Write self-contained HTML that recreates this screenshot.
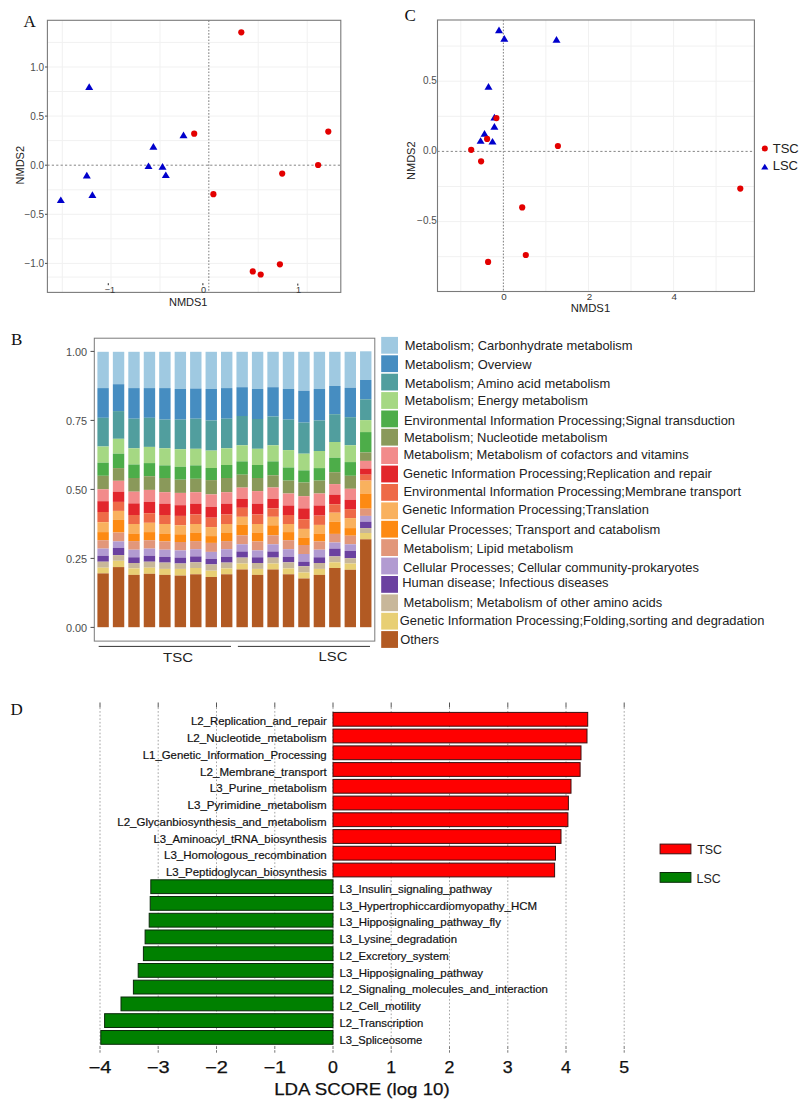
<!DOCTYPE html>
<html><head><meta charset="utf-8"><title>Figure</title>
<style>html,body{margin:0;padding:0;background:#fff;}body{width:807px;height:1103px;position:relative;overflow:hidden;font-family:"Liberation Sans",sans-serif;}</style>
</head><body>
<svg width="807" height="1103" viewBox="0 0 807 1103" style="position:absolute;left:0;top:0">
<text x="23.5" y="26.8" font-size="17" text-anchor="start" fill="#111" font-family='"Liberation Serif", serif' >A</text>
<line x1="62.3" y1="20.3" x2="62.3" y2="292.4" stroke="#f1f1f1" stroke-width="1"/>
<line x1="111.0" y1="20.3" x2="111.0" y2="292.4" stroke="#f1f1f1" stroke-width="1"/>
<line x1="160.0" y1="20.3" x2="160.0" y2="292.4" stroke="#f1f1f1" stroke-width="1"/>
<line x1="258.2" y1="20.3" x2="258.2" y2="292.4" stroke="#f1f1f1" stroke-width="1"/>
<line x1="307.2" y1="20.3" x2="307.2" y2="292.4" stroke="#f1f1f1" stroke-width="1"/>
<line x1="47.4" y1="42.4" x2="340.8" y2="42.4" stroke="#f1f1f1" stroke-width="1"/>
<line x1="47.4" y1="67.0" x2="340.8" y2="67.0" stroke="#f1f1f1" stroke-width="1"/>
<line x1="47.4" y1="91.5" x2="340.8" y2="91.5" stroke="#f1f1f1" stroke-width="1"/>
<line x1="47.4" y1="116.1" x2="340.8" y2="116.1" stroke="#f1f1f1" stroke-width="1"/>
<line x1="47.4" y1="140.6" x2="340.8" y2="140.6" stroke="#f1f1f1" stroke-width="1"/>
<line x1="47.4" y1="189.8" x2="340.8" y2="189.8" stroke="#f1f1f1" stroke-width="1"/>
<line x1="47.4" y1="214.3" x2="340.8" y2="214.3" stroke="#f1f1f1" stroke-width="1"/>
<line x1="47.4" y1="238.8" x2="340.8" y2="238.8" stroke="#f1f1f1" stroke-width="1"/>
<line x1="47.4" y1="263.4" x2="340.8" y2="263.4" stroke="#f1f1f1" stroke-width="1"/>
<line x1="47.4" y1="277.1" x2="340.8" y2="277.1" stroke="#f1f1f1" stroke-width="1"/>
<line x1="47.4" y1="165.2" x2="340.8" y2="165.2" stroke="#666" stroke-width="0.8" stroke-dasharray="2.2,2.2"/>
<line x1="208.8" y1="20.3" x2="208.8" y2="292.4" stroke="#8a8a8a" stroke-width="1.1" stroke-dasharray="1.6,1.6"/>
<rect x="47.4" y="20.3" width="293.40000000000003" height="272.09999999999997" fill="none" stroke="#7a7a7a" stroke-width="1.1"/>
<line x1="45" y1="67.0" x2="47.4" y2="67.0" stroke="#4d4d4d" stroke-width="1"/>
<text x="44.2" y="70.6" font-size="10" text-anchor="end" fill="#4d4d4d" font-family='"Liberation Sans", sans-serif' >1.0</text>
<line x1="45" y1="116.1" x2="47.4" y2="116.1" stroke="#4d4d4d" stroke-width="1"/>
<text x="44.2" y="119.7" font-size="10" text-anchor="end" fill="#4d4d4d" font-family='"Liberation Sans", sans-serif' >0.5</text>
<line x1="45" y1="165.2" x2="47.4" y2="165.2" stroke="#4d4d4d" stroke-width="1"/>
<text x="44.2" y="168.8" font-size="10" text-anchor="end" fill="#4d4d4d" font-family='"Liberation Sans", sans-serif' >0.0</text>
<line x1="45" y1="214.3" x2="47.4" y2="214.3" stroke="#4d4d4d" stroke-width="1"/>
<text x="44.2" y="217.9" font-size="10" text-anchor="end" fill="#4d4d4d" font-family='"Liberation Sans", sans-serif' >−0.5</text>
<line x1="45" y1="263.4" x2="47.4" y2="263.4" stroke="#4d4d4d" stroke-width="1"/>
<text x="44.2" y="267.0" font-size="10" text-anchor="end" fill="#4d4d4d" font-family='"Liberation Sans", sans-serif' >−1.0</text>
<text x="110" y="293" font-size="9.2" text-anchor="middle" fill="#3a3a3a" font-family='"Liberation Sans", sans-serif' >−1</text>
<text x="203.6" y="293" font-size="9.2" text-anchor="middle" fill="#3a3a3a" font-family='"Liberation Sans", sans-serif' >0</text>
<text x="298.5" y="293" font-size="9.2" text-anchor="middle" fill="#3a3a3a" font-family='"Liberation Sans", sans-serif' >1</text>
<rect x="107.7" y="283.2" width="1.3" height="2" fill="#555"/>
<rect x="202.20000000000002" y="283.2" width="1.3" height="2" fill="#555"/>
<rect x="297.09999999999997" y="283.6" width="1.3" height="2" fill="#555"/>
<text x="188.2" y="306.2" font-size="11" text-anchor="middle" fill="#222" font-family='"Liberation Sans", sans-serif' >NMDS1</text>
<text x="0" y="0" font-size="11" text-anchor="middle" fill="#222" font-family='"Liberation Sans", sans-serif' transform="translate(24.3,165.2) rotate(-90)">NMDS2</text>
<polygon points="85.20,89.88 93.20,89.88 89.20,83.32" fill="#0000cc"/>
<polygon points="179.50,138.18 187.50,138.18 183.50,131.62" fill="#0000cc"/>
<polygon points="149.40,149.68 157.40,149.68 153.40,143.12" fill="#0000cc"/>
<polygon points="56.80,203.08 64.80,203.08 60.80,196.52" fill="#0000cc"/>
<polygon points="82.80,178.38 90.80,178.38 86.80,171.82" fill="#0000cc"/>
<polygon points="88.40,197.88 96.40,197.88 92.40,191.32" fill="#0000cc"/>
<polygon points="144.50,169.08 152.50,169.08 148.50,162.52" fill="#0000cc"/>
<polygon points="158.50,169.68 166.50,169.68 162.50,163.12" fill="#0000cc"/>
<polygon points="161.80,177.98 169.80,177.98 165.80,171.42" fill="#0000cc"/>
<circle cx="241.3" cy="32.3" r="3.1" fill="#e30000"/>
<circle cx="194.2" cy="133.7" r="3.1" fill="#e30000"/>
<circle cx="328.3" cy="131.6" r="3.1" fill="#e30000"/>
<circle cx="318.1" cy="165.0" r="3.1" fill="#e30000"/>
<circle cx="282.2" cy="173.6" r="3.1" fill="#e30000"/>
<circle cx="213.4" cy="194.2" r="3.1" fill="#e30000"/>
<circle cx="279.9" cy="264.3" r="3.1" fill="#e30000"/>
<circle cx="252.8" cy="271.4" r="3.1" fill="#e30000"/>
<circle cx="260.7" cy="274.5" r="3.1" fill="#e30000"/>
<text x="404.5" y="20.8" font-size="17" text-anchor="start" fill="#111" font-family='"Liberation Serif", serif' >C</text>
<line x1="460.8" y1="20.0" x2="460.8" y2="291.5" stroke="#f1f1f1" stroke-width="1"/>
<line x1="545.9" y1="20.0" x2="545.9" y2="291.5" stroke="#f1f1f1" stroke-width="1"/>
<line x1="588.5" y1="20.0" x2="588.5" y2="291.5" stroke="#f1f1f1" stroke-width="1"/>
<line x1="631.0" y1="20.0" x2="631.0" y2="291.5" stroke="#f1f1f1" stroke-width="1"/>
<line x1="673.6" y1="20.0" x2="673.6" y2="291.5" stroke="#f1f1f1" stroke-width="1"/>
<line x1="716.1" y1="20.0" x2="716.1" y2="291.5" stroke="#f1f1f1" stroke-width="1"/>
<line x1="437.5" y1="46.1" x2="754.4" y2="46.1" stroke="#f1f1f1" stroke-width="1"/>
<line x1="437.5" y1="81.2" x2="754.4" y2="81.2" stroke="#f1f1f1" stroke-width="1"/>
<line x1="437.5" y1="116.3" x2="754.4" y2="116.3" stroke="#f1f1f1" stroke-width="1"/>
<line x1="437.5" y1="186.5" x2="754.4" y2="186.5" stroke="#f1f1f1" stroke-width="1"/>
<line x1="437.5" y1="221.6" x2="754.4" y2="221.6" stroke="#f1f1f1" stroke-width="1"/>
<line x1="437.5" y1="256.7" x2="754.4" y2="256.7" stroke="#f1f1f1" stroke-width="1"/>
<line x1="437.5" y1="151.4" x2="754.4" y2="151.4" stroke="#666" stroke-width="0.8" stroke-dasharray="2.2,2.2"/>
<line x1="503.4" y1="20.0" x2="503.4" y2="291.5" stroke="#8a8a8a" stroke-width="1.1" stroke-dasharray="1.6,1.6"/>
<rect x="437.5" y="20.0" width="316.9" height="271.5" fill="none" stroke="#7a7a7a" stroke-width="1.1"/>
<text x="436.8" y="83.6" font-size="10" text-anchor="end" fill="#4d4d4d" font-family='"Liberation Sans", sans-serif' >0.5</text>
<text x="436.8" y="153.8" font-size="10" text-anchor="end" fill="#4d4d4d" font-family='"Liberation Sans", sans-serif' >0.0</text>
<text x="436.8" y="224.0" font-size="10" text-anchor="end" fill="#4d4d4d" font-family='"Liberation Sans", sans-serif' >−0.5</text>
<text x="503.9" y="299.7" font-size="9.8" text-anchor="middle" fill="#3a3a3a" font-family='"Liberation Sans", sans-serif' >0</text>
<text x="589.4" y="299.7" font-size="9.8" text-anchor="middle" fill="#3a3a3a" font-family='"Liberation Sans", sans-serif' >2</text>
<text x="674.2" y="299.7" font-size="9.8" text-anchor="middle" fill="#3a3a3a" font-family='"Liberation Sans", sans-serif' >4</text>
<text x="590.4" y="312.1" font-size="11.3" text-anchor="middle" fill="#222" font-family='"Liberation Sans", sans-serif' >NMDS1</text>
<text x="0" y="0" font-size="11" text-anchor="middle" fill="#222" font-family='"Liberation Sans", sans-serif' transform="translate(415.3,160.7) rotate(-90)">NMDS2</text>
<polygon points="495.00,33.18 503.00,33.18 499.00,26.62" fill="#0000cc"/>
<polygon points="500.30,41.68 508.30,41.68 504.30,35.12" fill="#0000cc"/>
<polygon points="552.50,42.68 560.50,42.68 556.50,36.12" fill="#0000cc"/>
<polygon points="484.50,89.68 492.50,89.68 488.50,83.12" fill="#0000cc"/>
<polygon points="490.40,120.38 498.40,120.38 494.40,113.82" fill="#0000cc"/>
<polygon points="490.40,129.68 498.40,129.68 494.40,123.12" fill="#0000cc"/>
<polygon points="480.50,136.68 488.50,136.68 484.50,130.12" fill="#0000cc"/>
<polygon points="476.60,143.78 484.60,143.78 480.60,137.22" fill="#0000cc"/>
<polygon points="488.50,144.58 496.50,144.58 492.50,138.02" fill="#0000cc"/>
<circle cx="496.4" cy="118.1" r="3.1" fill="#e30000"/>
<circle cx="487.1" cy="138.9" r="3.1" fill="#e30000"/>
<circle cx="471.2" cy="149.8" r="3.1" fill="#e30000"/>
<circle cx="481.1" cy="161.3" r="3.1" fill="#e30000"/>
<circle cx="557.9" cy="146.0" r="3.1" fill="#e30000"/>
<circle cx="522.2" cy="207.4" r="3.1" fill="#e30000"/>
<circle cx="525.8" cy="255.0" r="3.1" fill="#e30000"/>
<circle cx="488.1" cy="261.9" r="3.1" fill="#e30000"/>
<circle cx="740.3" cy="188.6" r="3.1" fill="#e30000"/>
<circle cx="764.8" cy="148.4" r="3.0" fill="#e30000"/>
<polygon points="761.20,169.55 768.40,169.55 764.80,163.65" fill="#0000cc"/>
<text x="772.7" y="152.6" font-size="13" text-anchor="start" fill="#222" font-family='"Liberation Sans", sans-serif' >TSC</text>
<text x="772.7" y="169.8" font-size="13" text-anchor="start" fill="#222" font-family='"Liberation Sans", sans-serif' >LSC</text>
<text x="10.9" y="345" font-size="17" text-anchor="start" fill="#111" font-family='"Liberation Serif", serif' >B</text>
<rect x="94.3" y="338.2" width="280.5" height="302.90000000000003" fill="none" stroke="#7a7a7a" stroke-width="1"/>
<rect x="97.40" y="351.8" width="11.4" height="36.3" fill="#9fc9e1"/>
<rect x="97.40" y="388.1" width="11.4" height="29.7" fill="#468dc1"/>
<rect x="97.40" y="417.8" width="11.4" height="28.7" fill="#519e9e"/>
<rect x="97.40" y="446.5" width="11.4" height="16.2" fill="#a5d883"/>
<rect x="97.40" y="462.7" width="11.4" height="13.1" fill="#4dad49"/>
<rect x="97.40" y="475.8" width="11.4" height="13.5" fill="#8a995a"/>
<rect x="97.40" y="489.3" width="11.4" height="11.9" fill="#f28b8b"/>
<rect x="97.40" y="501.2" width="11.4" height="10.8" fill="#e2262c"/>
<rect x="97.40" y="512.0" width="11.4" height="10.2" fill="#ee6a47"/>
<rect x="97.40" y="522.2" width="11.4" height="9.9" fill="#f9b15e"/>
<rect x="97.40" y="532.1" width="11.4" height="8.1" fill="#fd8a13"/>
<rect x="97.40" y="540.2" width="11.4" height="8.4" fill="#e2977a"/>
<rect x="97.40" y="548.6" width="11.4" height="7.2" fill="#b29bd1"/>
<rect x="97.40" y="555.8" width="11.4" height="5.9" fill="#6b41a0"/>
<rect x="97.40" y="561.7" width="11.4" height="6.0" fill="#c8b79a"/>
<rect x="97.40" y="567.7" width="11.4" height="5.7" fill="#e8cf74"/>
<rect x="97.40" y="573.4" width="11.4" height="53.8" fill="#b25a23"/>
<rect x="112.85" y="351.8" width="11.4" height="32.4" fill="#9fc9e1"/>
<rect x="112.85" y="384.2" width="11.4" height="26.9" fill="#468dc1"/>
<rect x="112.85" y="411.1" width="11.4" height="27.7" fill="#519e9e"/>
<rect x="112.85" y="438.8" width="11.4" height="14.9" fill="#a5d883"/>
<rect x="112.85" y="453.7" width="11.4" height="14.4" fill="#4dad49"/>
<rect x="112.85" y="468.1" width="11.4" height="12.7" fill="#8a995a"/>
<rect x="112.85" y="480.8" width="11.4" height="10.9" fill="#f28b8b"/>
<rect x="112.85" y="491.7" width="11.4" height="10.2" fill="#e2262c"/>
<rect x="112.85" y="501.9" width="11.4" height="9.0" fill="#ee6a47"/>
<rect x="112.85" y="510.9" width="11.4" height="9.0" fill="#f9b15e"/>
<rect x="112.85" y="519.9" width="11.4" height="12.6" fill="#fd8a13"/>
<rect x="112.85" y="532.5" width="11.4" height="8.9" fill="#e2977a"/>
<rect x="112.85" y="541.4" width="11.4" height="6.5" fill="#b29bd1"/>
<rect x="112.85" y="547.9" width="11.4" height="7.2" fill="#6b41a0"/>
<rect x="112.85" y="555.1" width="11.4" height="5.7" fill="#c8b79a"/>
<rect x="112.85" y="560.8" width="11.4" height="6.3" fill="#e8cf74"/>
<rect x="112.85" y="567.1" width="11.4" height="60.1" fill="#b25a23"/>
<rect x="128.30" y="351.8" width="11.4" height="36.3" fill="#9fc9e1"/>
<rect x="128.30" y="388.1" width="11.4" height="30.6" fill="#468dc1"/>
<rect x="128.30" y="418.7" width="11.4" height="29.6" fill="#519e9e"/>
<rect x="128.30" y="448.3" width="11.4" height="16.2" fill="#a5d883"/>
<rect x="128.30" y="464.5" width="11.4" height="13.5" fill="#4dad49"/>
<rect x="128.30" y="478.0" width="11.4" height="13.7" fill="#8a995a"/>
<rect x="128.30" y="491.7" width="11.4" height="11.7" fill="#f28b8b"/>
<rect x="128.30" y="503.4" width="11.4" height="11.6" fill="#e2262c"/>
<rect x="128.30" y="515.0" width="11.4" height="9.0" fill="#ee6a47"/>
<rect x="128.30" y="524.0" width="11.4" height="9.5" fill="#f9b15e"/>
<rect x="128.30" y="533.5" width="11.4" height="7.6" fill="#fd8a13"/>
<rect x="128.30" y="541.1" width="11.4" height="8.6" fill="#e2977a"/>
<rect x="128.30" y="549.7" width="11.4" height="7.6" fill="#b29bd1"/>
<rect x="128.30" y="557.3" width="11.4" height="5.7" fill="#6b41a0"/>
<rect x="128.30" y="563.0" width="11.4" height="5.4" fill="#c8b79a"/>
<rect x="128.30" y="568.4" width="11.4" height="6.5" fill="#e8cf74"/>
<rect x="128.30" y="574.9" width="11.4" height="52.3" fill="#b25a23"/>
<rect x="143.75" y="351.8" width="11.4" height="36.3" fill="#9fc9e1"/>
<rect x="143.75" y="388.1" width="11.4" height="29.7" fill="#468dc1"/>
<rect x="143.75" y="417.8" width="11.4" height="29.1" fill="#519e9e"/>
<rect x="143.75" y="446.9" width="11.4" height="16.2" fill="#a5d883"/>
<rect x="143.75" y="463.1" width="11.4" height="13.1" fill="#4dad49"/>
<rect x="143.75" y="476.2" width="11.4" height="13.7" fill="#8a995a"/>
<rect x="143.75" y="489.9" width="11.4" height="12.0" fill="#f28b8b"/>
<rect x="143.75" y="501.9" width="11.4" height="11.3" fill="#e2262c"/>
<rect x="143.75" y="513.2" width="11.4" height="9.6" fill="#ee6a47"/>
<rect x="143.75" y="522.8" width="11.4" height="9.3" fill="#f9b15e"/>
<rect x="143.75" y="532.1" width="11.4" height="8.1" fill="#fd8a13"/>
<rect x="143.75" y="540.2" width="11.4" height="8.4" fill="#e2977a"/>
<rect x="143.75" y="548.6" width="11.4" height="7.2" fill="#b29bd1"/>
<rect x="143.75" y="555.8" width="11.4" height="5.9" fill="#6b41a0"/>
<rect x="143.75" y="561.7" width="11.4" height="6.0" fill="#c8b79a"/>
<rect x="143.75" y="567.7" width="11.4" height="6.1" fill="#e8cf74"/>
<rect x="143.75" y="573.8" width="11.4" height="53.4" fill="#b25a23"/>
<rect x="159.20" y="351.8" width="11.4" height="36.3" fill="#9fc9e1"/>
<rect x="159.20" y="388.1" width="11.4" height="31.5" fill="#468dc1"/>
<rect x="159.20" y="419.6" width="11.4" height="28.7" fill="#519e9e"/>
<rect x="159.20" y="448.3" width="11.4" height="17.1" fill="#a5d883"/>
<rect x="159.20" y="465.4" width="11.4" height="12.6" fill="#4dad49"/>
<rect x="159.20" y="478.0" width="11.4" height="14.2" fill="#8a995a"/>
<rect x="159.20" y="492.2" width="11.4" height="11.5" fill="#f28b8b"/>
<rect x="159.20" y="503.7" width="11.4" height="11.3" fill="#e2262c"/>
<rect x="159.20" y="515.0" width="11.4" height="9.0" fill="#ee6a47"/>
<rect x="159.20" y="524.0" width="11.4" height="9.5" fill="#f9b15e"/>
<rect x="159.20" y="533.5" width="11.4" height="7.9" fill="#fd8a13"/>
<rect x="159.20" y="541.4" width="11.4" height="8.3" fill="#e2977a"/>
<rect x="159.20" y="549.7" width="11.4" height="7.2" fill="#b29bd1"/>
<rect x="159.20" y="556.9" width="11.4" height="5.7" fill="#6b41a0"/>
<rect x="159.20" y="562.6" width="11.4" height="6.3" fill="#c8b79a"/>
<rect x="159.20" y="568.9" width="11.4" height="6.0" fill="#e8cf74"/>
<rect x="159.20" y="574.9" width="11.4" height="52.3" fill="#b25a23"/>
<rect x="174.65" y="351.8" width="11.4" height="37.2" fill="#9fc9e1"/>
<rect x="174.65" y="389.0" width="11.4" height="30.6" fill="#468dc1"/>
<rect x="174.65" y="419.6" width="11.4" height="29.6" fill="#519e9e"/>
<rect x="174.65" y="449.2" width="11.4" height="17.6" fill="#a5d883"/>
<rect x="174.65" y="466.8" width="11.4" height="12.9" fill="#4dad49"/>
<rect x="174.65" y="479.7" width="11.4" height="13.2" fill="#8a995a"/>
<rect x="174.65" y="492.9" width="11.4" height="12.3" fill="#f28b8b"/>
<rect x="174.65" y="505.2" width="11.4" height="10.7" fill="#e2262c"/>
<rect x="174.65" y="515.9" width="11.4" height="9.4" fill="#ee6a47"/>
<rect x="174.65" y="525.3" width="11.4" height="9.0" fill="#f9b15e"/>
<rect x="174.65" y="534.3" width="11.4" height="7.7" fill="#fd8a13"/>
<rect x="174.65" y="542.0" width="11.4" height="8.4" fill="#e2977a"/>
<rect x="174.65" y="550.4" width="11.4" height="7.2" fill="#b29bd1"/>
<rect x="174.65" y="557.6" width="11.4" height="5.9" fill="#6b41a0"/>
<rect x="174.65" y="563.5" width="11.4" height="5.4" fill="#c8b79a"/>
<rect x="174.65" y="568.9" width="11.4" height="6.7" fill="#e8cf74"/>
<rect x="174.65" y="575.6" width="11.4" height="51.6" fill="#b25a23"/>
<rect x="190.10" y="351.8" width="11.4" height="36.7" fill="#9fc9e1"/>
<rect x="190.10" y="388.5" width="11.4" height="30.2" fill="#468dc1"/>
<rect x="190.10" y="418.7" width="11.4" height="30.1" fill="#519e9e"/>
<rect x="190.10" y="448.8" width="11.4" height="16.6" fill="#a5d883"/>
<rect x="190.10" y="465.4" width="11.4" height="13.4" fill="#4dad49"/>
<rect x="190.10" y="478.8" width="11.4" height="13.4" fill="#8a995a"/>
<rect x="190.10" y="492.2" width="11.4" height="11.5" fill="#f28b8b"/>
<rect x="190.10" y="503.7" width="11.4" height="10.8" fill="#e2262c"/>
<rect x="190.10" y="514.5" width="11.4" height="9.5" fill="#ee6a47"/>
<rect x="190.10" y="524.0" width="11.4" height="8.5" fill="#f9b15e"/>
<rect x="190.10" y="532.5" width="11.4" height="8.6" fill="#fd8a13"/>
<rect x="190.10" y="541.1" width="11.4" height="8.1" fill="#e2977a"/>
<rect x="190.10" y="549.2" width="11.4" height="7.2" fill="#b29bd1"/>
<rect x="190.10" y="556.4" width="11.4" height="5.9" fill="#6b41a0"/>
<rect x="190.10" y="562.3" width="11.4" height="5.7" fill="#c8b79a"/>
<rect x="190.10" y="568.0" width="11.4" height="6.3" fill="#e8cf74"/>
<rect x="190.10" y="574.3" width="11.4" height="52.9" fill="#b25a23"/>
<rect x="205.55" y="351.8" width="11.4" height="37.2" fill="#9fc9e1"/>
<rect x="205.55" y="389.0" width="11.4" height="31.5" fill="#468dc1"/>
<rect x="205.55" y="420.5" width="11.4" height="30.1" fill="#519e9e"/>
<rect x="205.55" y="450.6" width="11.4" height="17.4" fill="#a5d883"/>
<rect x="205.55" y="468.0" width="11.4" height="12.1" fill="#4dad49"/>
<rect x="205.55" y="480.1" width="11.4" height="14.3" fill="#8a995a"/>
<rect x="205.55" y="494.4" width="11.4" height="12.5" fill="#f28b8b"/>
<rect x="205.55" y="506.9" width="11.4" height="10.8" fill="#e2262c"/>
<rect x="205.55" y="517.7" width="11.4" height="9.4" fill="#ee6a47"/>
<rect x="205.55" y="527.1" width="11.4" height="9.0" fill="#f9b15e"/>
<rect x="205.55" y="536.1" width="11.4" height="6.8" fill="#fd8a13"/>
<rect x="205.55" y="542.9" width="11.4" height="9.0" fill="#e2977a"/>
<rect x="205.55" y="551.9" width="11.4" height="7.1" fill="#b29bd1"/>
<rect x="205.55" y="559.0" width="11.4" height="5.4" fill="#6b41a0"/>
<rect x="205.55" y="564.4" width="11.4" height="6.3" fill="#c8b79a"/>
<rect x="205.55" y="570.7" width="11.4" height="6.3" fill="#e8cf74"/>
<rect x="205.55" y="577.0" width="11.4" height="50.2" fill="#b25a23"/>
<rect x="221.00" y="351.8" width="11.4" height="36.3" fill="#9fc9e1"/>
<rect x="221.00" y="388.1" width="11.4" height="30.6" fill="#468dc1"/>
<rect x="221.00" y="418.7" width="11.4" height="29.6" fill="#519e9e"/>
<rect x="221.00" y="448.3" width="11.4" height="16.7" fill="#a5d883"/>
<rect x="221.00" y="465.0" width="11.4" height="13.0" fill="#4dad49"/>
<rect x="221.00" y="478.0" width="11.4" height="14.2" fill="#8a995a"/>
<rect x="221.00" y="492.2" width="11.4" height="11.5" fill="#f28b8b"/>
<rect x="221.00" y="503.7" width="11.4" height="10.8" fill="#e2262c"/>
<rect x="221.00" y="514.5" width="11.4" height="9.5" fill="#ee6a47"/>
<rect x="221.00" y="524.0" width="11.4" height="9.0" fill="#f9b15e"/>
<rect x="221.00" y="533.0" width="11.4" height="8.1" fill="#fd8a13"/>
<rect x="221.00" y="541.1" width="11.4" height="8.1" fill="#e2977a"/>
<rect x="221.00" y="549.2" width="11.4" height="7.7" fill="#b29bd1"/>
<rect x="221.00" y="556.9" width="11.4" height="5.7" fill="#6b41a0"/>
<rect x="221.00" y="562.6" width="11.4" height="5.8" fill="#c8b79a"/>
<rect x="221.00" y="568.4" width="11.4" height="5.9" fill="#e8cf74"/>
<rect x="221.00" y="574.3" width="11.4" height="52.9" fill="#b25a23"/>
<rect x="236.45" y="351.8" width="11.4" height="35.4" fill="#9fc9e1"/>
<rect x="236.45" y="387.2" width="11.4" height="28.8" fill="#468dc1"/>
<rect x="236.45" y="416.0" width="11.4" height="29.3" fill="#519e9e"/>
<rect x="236.45" y="445.3" width="11.4" height="16.1" fill="#a5d883"/>
<rect x="236.45" y="461.4" width="11.4" height="13.3" fill="#4dad49"/>
<rect x="236.45" y="474.7" width="11.4" height="12.9" fill="#8a995a"/>
<rect x="236.45" y="487.6" width="11.4" height="11.3" fill="#f28b8b"/>
<rect x="236.45" y="498.9" width="11.4" height="8.9" fill="#e2262c"/>
<rect x="236.45" y="507.8" width="11.4" height="9.0" fill="#ee6a47"/>
<rect x="236.45" y="516.8" width="11.4" height="8.1" fill="#f9b15e"/>
<rect x="236.45" y="524.9" width="11.4" height="10.4" fill="#fd8a13"/>
<rect x="236.45" y="535.3" width="11.4" height="9.0" fill="#e2977a"/>
<rect x="236.45" y="544.3" width="11.4" height="7.2" fill="#b29bd1"/>
<rect x="236.45" y="551.5" width="11.4" height="6.1" fill="#6b41a0"/>
<rect x="236.45" y="557.6" width="11.4" height="5.9" fill="#c8b79a"/>
<rect x="236.45" y="563.5" width="11.4" height="6.0" fill="#e8cf74"/>
<rect x="236.45" y="569.5" width="11.4" height="57.7" fill="#b25a23"/>
<rect x="251.90" y="351.8" width="11.4" height="37.2" fill="#9fc9e1"/>
<rect x="251.90" y="389.0" width="11.4" height="30.0" fill="#468dc1"/>
<rect x="251.90" y="419.0" width="11.4" height="29.8" fill="#519e9e"/>
<rect x="251.90" y="448.8" width="11.4" height="16.2" fill="#a5d883"/>
<rect x="251.90" y="465.0" width="11.4" height="13.0" fill="#4dad49"/>
<rect x="251.90" y="478.0" width="11.4" height="13.1" fill="#8a995a"/>
<rect x="251.90" y="491.1" width="11.4" height="12.6" fill="#f28b8b"/>
<rect x="251.90" y="503.7" width="11.4" height="10.8" fill="#e2262c"/>
<rect x="251.90" y="514.5" width="11.4" height="9.5" fill="#ee6a47"/>
<rect x="251.90" y="524.0" width="11.4" height="8.5" fill="#f9b15e"/>
<rect x="251.90" y="532.5" width="11.4" height="8.9" fill="#fd8a13"/>
<rect x="251.90" y="541.4" width="11.4" height="9.0" fill="#e2977a"/>
<rect x="251.90" y="550.4" width="11.4" height="6.9" fill="#b29bd1"/>
<rect x="251.90" y="557.3" width="11.4" height="5.7" fill="#6b41a0"/>
<rect x="251.90" y="563.0" width="11.4" height="5.9" fill="#c8b79a"/>
<rect x="251.90" y="568.9" width="11.4" height="6.0" fill="#e8cf74"/>
<rect x="251.90" y="574.9" width="11.4" height="52.3" fill="#b25a23"/>
<rect x="267.35" y="351.8" width="11.4" height="35.4" fill="#9fc9e1"/>
<rect x="267.35" y="387.2" width="11.4" height="29.3" fill="#468dc1"/>
<rect x="267.35" y="416.5" width="11.4" height="28.8" fill="#519e9e"/>
<rect x="267.35" y="445.3" width="11.4" height="16.1" fill="#a5d883"/>
<rect x="267.35" y="461.4" width="11.4" height="13.9" fill="#4dad49"/>
<rect x="267.35" y="475.3" width="11.4" height="12.2" fill="#8a995a"/>
<rect x="267.35" y="487.5" width="11.4" height="11.4" fill="#f28b8b"/>
<rect x="267.35" y="498.9" width="11.4" height="9.5" fill="#e2262c"/>
<rect x="267.35" y="508.4" width="11.4" height="8.4" fill="#ee6a47"/>
<rect x="267.35" y="516.8" width="11.4" height="8.5" fill="#f9b15e"/>
<rect x="267.35" y="525.3" width="11.4" height="10.0" fill="#fd8a13"/>
<rect x="267.35" y="535.3" width="11.4" height="9.0" fill="#e2977a"/>
<rect x="267.35" y="544.3" width="11.4" height="7.2" fill="#b29bd1"/>
<rect x="267.35" y="551.5" width="11.4" height="6.1" fill="#6b41a0"/>
<rect x="267.35" y="557.6" width="11.4" height="5.9" fill="#c8b79a"/>
<rect x="267.35" y="563.5" width="11.4" height="6.0" fill="#e8cf74"/>
<rect x="267.35" y="569.5" width="11.4" height="57.7" fill="#b25a23"/>
<rect x="282.80" y="351.8" width="11.4" height="37.2" fill="#9fc9e1"/>
<rect x="282.80" y="389.0" width="11.4" height="30.6" fill="#468dc1"/>
<rect x="282.80" y="419.6" width="11.4" height="30.5" fill="#519e9e"/>
<rect x="282.80" y="450.1" width="11.4" height="17.4" fill="#a5d883"/>
<rect x="282.80" y="467.5" width="11.4" height="13.1" fill="#4dad49"/>
<rect x="282.80" y="480.6" width="11.4" height="12.9" fill="#8a995a"/>
<rect x="282.80" y="493.5" width="11.4" height="12.0" fill="#f28b8b"/>
<rect x="282.80" y="505.5" width="11.4" height="9.5" fill="#e2262c"/>
<rect x="282.80" y="515.0" width="11.4" height="9.0" fill="#ee6a47"/>
<rect x="282.80" y="524.0" width="11.4" height="8.1" fill="#f9b15e"/>
<rect x="282.80" y="532.1" width="11.4" height="8.1" fill="#fd8a13"/>
<rect x="282.80" y="540.2" width="11.4" height="9.0" fill="#e2977a"/>
<rect x="282.80" y="549.2" width="11.4" height="7.7" fill="#b29bd1"/>
<rect x="282.80" y="556.9" width="11.4" height="5.4" fill="#6b41a0"/>
<rect x="282.80" y="562.3" width="11.4" height="6.1" fill="#c8b79a"/>
<rect x="282.80" y="568.4" width="11.4" height="5.9" fill="#e8cf74"/>
<rect x="282.80" y="574.3" width="11.4" height="52.9" fill="#b25a23"/>
<rect x="298.25" y="351.8" width="11.4" height="39.0" fill="#9fc9e1"/>
<rect x="298.25" y="390.8" width="11.4" height="31.8" fill="#468dc1"/>
<rect x="298.25" y="422.6" width="11.4" height="31.1" fill="#519e9e"/>
<rect x="298.25" y="453.7" width="11.4" height="16.7" fill="#a5d883"/>
<rect x="298.25" y="470.4" width="11.4" height="12.1" fill="#4dad49"/>
<rect x="298.25" y="482.5" width="11.4" height="13.7" fill="#8a995a"/>
<rect x="298.25" y="496.2" width="11.4" height="12.2" fill="#f28b8b"/>
<rect x="298.25" y="508.4" width="11.4" height="10.8" fill="#e2262c"/>
<rect x="298.25" y="519.2" width="11.4" height="9.7" fill="#ee6a47"/>
<rect x="298.25" y="528.9" width="11.4" height="8.6" fill="#f9b15e"/>
<rect x="298.25" y="537.5" width="11.4" height="7.5" fill="#fd8a13"/>
<rect x="298.25" y="545.0" width="11.4" height="9.0" fill="#e2977a"/>
<rect x="298.25" y="554.0" width="11.4" height="7.7" fill="#b29bd1"/>
<rect x="298.25" y="561.7" width="11.4" height="4.5" fill="#6b41a0"/>
<rect x="298.25" y="566.2" width="11.4" height="6.3" fill="#c8b79a"/>
<rect x="298.25" y="572.5" width="11.4" height="6.0" fill="#e8cf74"/>
<rect x="298.25" y="578.5" width="11.4" height="48.7" fill="#b25a23"/>
<rect x="313.70" y="351.8" width="11.4" height="37.2" fill="#9fc9e1"/>
<rect x="313.70" y="389.0" width="11.4" height="31.5" fill="#468dc1"/>
<rect x="313.70" y="420.5" width="11.4" height="30.5" fill="#519e9e"/>
<rect x="313.70" y="451.0" width="11.4" height="17.1" fill="#a5d883"/>
<rect x="313.70" y="468.1" width="11.4" height="12.5" fill="#4dad49"/>
<rect x="313.70" y="480.6" width="11.4" height="12.9" fill="#8a995a"/>
<rect x="313.70" y="493.5" width="11.4" height="12.0" fill="#f28b8b"/>
<rect x="313.70" y="505.5" width="11.4" height="10.1" fill="#e2262c"/>
<rect x="313.70" y="515.6" width="11.4" height="9.3" fill="#ee6a47"/>
<rect x="313.70" y="524.9" width="11.4" height="8.6" fill="#f9b15e"/>
<rect x="313.70" y="533.5" width="11.4" height="7.9" fill="#fd8a13"/>
<rect x="313.70" y="541.4" width="11.4" height="8.3" fill="#e2977a"/>
<rect x="313.70" y="549.7" width="11.4" height="7.6" fill="#b29bd1"/>
<rect x="313.70" y="557.3" width="11.4" height="5.7" fill="#6b41a0"/>
<rect x="313.70" y="563.0" width="11.4" height="5.9" fill="#c8b79a"/>
<rect x="313.70" y="568.9" width="11.4" height="6.0" fill="#e8cf74"/>
<rect x="313.70" y="574.9" width="11.4" height="52.3" fill="#b25a23"/>
<rect x="329.15" y="351.8" width="11.4" height="34.2" fill="#9fc9e1"/>
<rect x="329.15" y="386.0" width="11.4" height="28.2" fill="#468dc1"/>
<rect x="329.15" y="414.2" width="11.4" height="27.8" fill="#519e9e"/>
<rect x="329.15" y="442.0" width="11.4" height="15.8" fill="#a5d883"/>
<rect x="329.15" y="457.8" width="11.4" height="14.4" fill="#4dad49"/>
<rect x="329.15" y="472.2" width="11.4" height="11.9" fill="#8a995a"/>
<rect x="329.15" y="484.1" width="11.4" height="10.6" fill="#f28b8b"/>
<rect x="329.15" y="494.7" width="11.4" height="9.6" fill="#e2262c"/>
<rect x="329.15" y="504.3" width="11.4" height="8.4" fill="#ee6a47"/>
<rect x="329.15" y="512.7" width="11.4" height="9.0" fill="#f9b15e"/>
<rect x="329.15" y="521.7" width="11.4" height="12.2" fill="#fd8a13"/>
<rect x="329.15" y="533.9" width="11.4" height="8.6" fill="#e2977a"/>
<rect x="329.15" y="542.5" width="11.4" height="6.1" fill="#b29bd1"/>
<rect x="329.15" y="548.6" width="11.4" height="7.8" fill="#6b41a0"/>
<rect x="329.15" y="556.4" width="11.4" height="5.9" fill="#c8b79a"/>
<rect x="329.15" y="562.3" width="11.4" height="5.7" fill="#e8cf74"/>
<rect x="329.15" y="568.0" width="11.4" height="59.2" fill="#b25a23"/>
<rect x="344.60" y="351.8" width="11.4" height="36.0" fill="#9fc9e1"/>
<rect x="344.60" y="387.8" width="11.4" height="29.4" fill="#468dc1"/>
<rect x="344.60" y="417.2" width="11.4" height="28.1" fill="#519e9e"/>
<rect x="344.60" y="445.3" width="11.4" height="16.8" fill="#a5d883"/>
<rect x="344.60" y="462.1" width="11.4" height="13.7" fill="#4dad49"/>
<rect x="344.60" y="475.8" width="11.4" height="13.0" fill="#8a995a"/>
<rect x="344.60" y="488.8" width="11.4" height="11.0" fill="#f28b8b"/>
<rect x="344.60" y="499.8" width="11.4" height="9.3" fill="#e2262c"/>
<rect x="344.60" y="509.1" width="11.4" height="9.0" fill="#ee6a47"/>
<rect x="344.60" y="518.1" width="11.4" height="10.0" fill="#f9b15e"/>
<rect x="344.60" y="528.1" width="11.4" height="7.6" fill="#fd8a13"/>
<rect x="344.60" y="535.7" width="11.4" height="8.6" fill="#e2977a"/>
<rect x="344.60" y="544.3" width="11.4" height="6.7" fill="#b29bd1"/>
<rect x="344.60" y="551.0" width="11.4" height="7.2" fill="#6b41a0"/>
<rect x="344.60" y="558.2" width="11.4" height="5.3" fill="#c8b79a"/>
<rect x="344.60" y="563.5" width="11.4" height="6.3" fill="#e8cf74"/>
<rect x="344.60" y="569.8" width="11.4" height="57.4" fill="#b25a23"/>
<rect x="360.05" y="351.3" width="11.4" height="28.7" fill="#9fc9e1"/>
<rect x="360.05" y="380.0" width="11.4" height="19.3" fill="#468dc1"/>
<rect x="360.05" y="399.3" width="11.4" height="20.8" fill="#519e9e"/>
<rect x="360.05" y="420.1" width="11.4" height="12.0" fill="#a5d883"/>
<rect x="360.05" y="432.1" width="11.4" height="20.3" fill="#4dad49"/>
<rect x="360.05" y="452.4" width="11.4" height="8.5" fill="#8a995a"/>
<rect x="360.05" y="460.9" width="11.4" height="7.7" fill="#f28b8b"/>
<rect x="360.05" y="468.6" width="11.4" height="6.1" fill="#e2262c"/>
<rect x="360.05" y="474.7" width="11.4" height="5.9" fill="#ee6a47"/>
<rect x="360.05" y="480.6" width="11.4" height="12.9" fill="#f9b15e"/>
<rect x="360.05" y="493.5" width="11.4" height="15.2" fill="#fd8a13"/>
<rect x="360.05" y="508.7" width="11.4" height="7.2" fill="#e2977a"/>
<rect x="360.05" y="515.9" width="11.4" height="5.8" fill="#b29bd1"/>
<rect x="360.05" y="521.7" width="11.4" height="6.4" fill="#6b41a0"/>
<rect x="360.05" y="528.1" width="11.4" height="4.9" fill="#c8b79a"/>
<rect x="360.05" y="533.0" width="11.4" height="6.3" fill="#e8cf74"/>
<rect x="360.05" y="539.3" width="11.4" height="87.9" fill="#b25a23"/>
<line x1="90.5" y1="627.4" x2="94.3" y2="627.4" stroke="#4d4d4d" stroke-width="1"/>
<text x="87.2" y="631.7" font-size="10.6" text-anchor="end" fill="#4d4d4d" font-family='"Liberation Sans", sans-serif' textLength="21.2" lengthAdjust="spacingAndGlyphs">0.00</text>
<line x1="90.5" y1="558.4" x2="94.3" y2="558.4" stroke="#4d4d4d" stroke-width="1"/>
<text x="87.2" y="562.7" font-size="10.6" text-anchor="end" fill="#4d4d4d" font-family='"Liberation Sans", sans-serif' textLength="21.2" lengthAdjust="spacingAndGlyphs">0.25</text>
<line x1="90.5" y1="489.4" x2="94.3" y2="489.4" stroke="#4d4d4d" stroke-width="1"/>
<text x="87.2" y="493.7" font-size="10.6" text-anchor="end" fill="#4d4d4d" font-family='"Liberation Sans", sans-serif' textLength="21.2" lengthAdjust="spacingAndGlyphs">0.50</text>
<line x1="90.5" y1="420.4" x2="94.3" y2="420.4" stroke="#4d4d4d" stroke-width="1"/>
<text x="87.2" y="424.7" font-size="10.6" text-anchor="end" fill="#4d4d4d" font-family='"Liberation Sans", sans-serif' textLength="21.2" lengthAdjust="spacingAndGlyphs">0.75</text>
<line x1="90.5" y1="351.4" x2="94.3" y2="351.4" stroke="#4d4d4d" stroke-width="1"/>
<text x="87.2" y="355.7" font-size="10.6" text-anchor="end" fill="#4d4d4d" font-family='"Liberation Sans", sans-serif' textLength="21.2" lengthAdjust="spacingAndGlyphs">1.00</text>
<line x1="98.7" y1="646.4" x2="231" y2="646.4" stroke="#333" stroke-width="1"/>
<line x1="237.9" y1="646.4" x2="370" y2="646.4" stroke="#333" stroke-width="1"/>
<text x="163" y="662" font-size="13.4" text-anchor="start" fill="#222" font-family='"Liberation Sans", sans-serif' textLength="30" lengthAdjust="spacingAndGlyphs">TSC</text>
<text x="318.6" y="661.2" font-size="13.4" text-anchor="start" fill="#222" font-family='"Liberation Sans", sans-serif' textLength="28.8" lengthAdjust="spacingAndGlyphs">LSC</text>
<rect x="381.2" y="336.9" width="16.8" height="16.8" fill="#9fc9e1"/>
<text x="404.7" y="349.8" font-size="12.9" text-anchor="start" fill="#222" font-family='"Liberation Sans", sans-serif' >Metabolism; Carbonhydrate metabolism</text>
<rect x="381.2" y="355.3" width="16.8" height="16.8" fill="#468dc1"/>
<text x="404.7" y="368.6" font-size="12.9" text-anchor="start" fill="#222" font-family='"Liberation Sans", sans-serif' >Metabolism; Overview</text>
<rect x="381.2" y="373.7" width="16.8" height="16.8" fill="#519e9e"/>
<text x="404.7" y="388.4" font-size="12.9" text-anchor="start" fill="#222" font-family='"Liberation Sans", sans-serif' >Metabolism; Amino acid metabolism</text>
<rect x="381.2" y="392.1" width="16.8" height="16.8" fill="#a5d883"/>
<text x="404.5" y="405.1" font-size="12.9" text-anchor="start" fill="#222" font-family='"Liberation Sans", sans-serif' >Metabolism; Energy metabolism</text>
<rect x="381.2" y="410.5" width="16.8" height="16.8" fill="#4dad49"/>
<text x="404.0" y="424.9" font-size="12.9" text-anchor="start" fill="#222" font-family='"Liberation Sans", sans-serif' >Environmental Information Processing;Signal transduction</text>
<rect x="381.2" y="428.8" width="16.8" height="16.8" fill="#8a995a"/>
<text x="404.0" y="442.2" font-size="12.9" text-anchor="start" fill="#222" font-family='"Liberation Sans", sans-serif' >Metabolism; Nucleotide metabolism</text>
<rect x="381.2" y="447.2" width="16.8" height="16.8" fill="#f28b8b"/>
<text x="403.5" y="458.9" font-size="12.9" text-anchor="start" fill="#222" font-family='"Liberation Sans", sans-serif' >Metabolism; Metabolism of cofactors and vitamins</text>
<rect x="381.2" y="465.6" width="16.8" height="16.8" fill="#e2262c"/>
<text x="403.0" y="478.2" font-size="12.9" text-anchor="start" fill="#222" font-family='"Liberation Sans", sans-serif' >Genetic Information Processing;Replication and repair</text>
<rect x="381.2" y="484.0" width="16.8" height="16.8" fill="#ee6a47"/>
<text x="403.5" y="496.4" font-size="12.9" text-anchor="start" fill="#222" font-family='"Liberation Sans", sans-serif' >Environmental Information Processing;Membrane transport</text>
<rect x="381.2" y="502.4" width="16.8" height="16.8" fill="#f9b15e"/>
<text x="402.2" y="514.2" font-size="12.9" text-anchor="start" fill="#222" font-family='"Liberation Sans", sans-serif' >Genetic Information Processing;Translation</text>
<rect x="381.2" y="520.8" width="16.8" height="16.8" fill="#fd8a13"/>
<text x="401.0" y="533.5" font-size="12.9" text-anchor="start" fill="#222" font-family='"Liberation Sans", sans-serif' >Cellular Processes; Transport and catabolism</text>
<rect x="381.2" y="539.2" width="16.8" height="16.8" fill="#e2977a"/>
<text x="403.5" y="552.6" font-size="12.9" text-anchor="start" fill="#222" font-family='"Liberation Sans", sans-serif' >Metabolism; Lipid metabolism</text>
<rect x="381.2" y="557.6" width="16.8" height="16.8" fill="#b29bd1"/>
<text x="403.0" y="572.4" font-size="12.9" text-anchor="start" fill="#222" font-family='"Liberation Sans", sans-serif' >Cellular Processes; Cellular community-prokaryotes</text>
<rect x="381.2" y="576.0" width="16.8" height="16.8" fill="#6b41a0"/>
<text x="402.2" y="587.3" font-size="12.9" text-anchor="start" fill="#222" font-family='"Liberation Sans", sans-serif' >Human disease; Infectious diseases</text>
<rect x="381.2" y="594.4" width="16.8" height="16.8" fill="#c8b79a"/>
<text x="403.5" y="607.1" font-size="12.9" text-anchor="start" fill="#222" font-family='"Liberation Sans", sans-serif' >Metabolism; Metabolism of other amino acids</text>
<rect x="381.2" y="612.8" width="16.8" height="16.8" fill="#e8cf74"/>
<text x="399.7" y="625.2" font-size="12.9" text-anchor="start" fill="#222" font-family='"Liberation Sans", sans-serif' >Genetic Information Processing;Folding,sorting and degradation</text>
<rect x="381.2" y="631.1" width="16.8" height="16.8" fill="#b25a23"/>
<text x="400.2" y="643.6" font-size="12.9" text-anchor="start" fill="#222" font-family='"Liberation Sans", sans-serif' >Others</text>
<text x="10.4" y="714.6" font-size="17" text-anchor="start" fill="#111" font-family='"Liberation Serif", serif' >D</text>
<line x1="100.0" y1="702.5" x2="100.0" y2="707.5" stroke="#555" stroke-width="1"/>
<line x1="100.0" y1="707.5" x2="100.0" y2="1047" stroke="#999" stroke-width="0.9" stroke-dasharray="1.6,2"/>
<line x1="100.0" y1="1046.5" x2="100.0" y2="1053.5" stroke="#777" stroke-width="1" stroke-dasharray="2.5,1.2"/>
<text x="100.0" y="1072.7" font-size="15.6" text-anchor="middle" fill="#111" font-family='"Liberation Sans", sans-serif' stroke="#111" stroke-width="0.25" textLength="22.8" lengthAdjust="spacingAndGlyphs">−4</text>
<line x1="158.2" y1="702.5" x2="158.2" y2="707.5" stroke="#555" stroke-width="1"/>
<line x1="158.2" y1="707.5" x2="158.2" y2="1047" stroke="#999" stroke-width="0.9" stroke-dasharray="1.6,2"/>
<line x1="158.2" y1="1046.5" x2="158.2" y2="1053.5" stroke="#777" stroke-width="1" stroke-dasharray="2.5,1.2"/>
<text x="158.2" y="1072.7" font-size="15.6" text-anchor="middle" fill="#111" font-family='"Liberation Sans", sans-serif' stroke="#111" stroke-width="0.25" textLength="22.8" lengthAdjust="spacingAndGlyphs">−3</text>
<line x1="216.5" y1="702.5" x2="216.5" y2="707.5" stroke="#555" stroke-width="1"/>
<line x1="216.5" y1="707.5" x2="216.5" y2="1047" stroke="#999" stroke-width="0.9" stroke-dasharray="1.6,2"/>
<line x1="216.5" y1="1046.5" x2="216.5" y2="1053.5" stroke="#777" stroke-width="1" stroke-dasharray="2.5,1.2"/>
<text x="216.5" y="1072.7" font-size="15.6" text-anchor="middle" fill="#111" font-family='"Liberation Sans", sans-serif' stroke="#111" stroke-width="0.25" textLength="22.8" lengthAdjust="spacingAndGlyphs">−2</text>
<line x1="274.8" y1="702.5" x2="274.8" y2="707.5" stroke="#555" stroke-width="1"/>
<line x1="274.8" y1="707.5" x2="274.8" y2="1047" stroke="#999" stroke-width="0.9" stroke-dasharray="1.6,2"/>
<line x1="274.8" y1="1046.5" x2="274.8" y2="1053.5" stroke="#777" stroke-width="1" stroke-dasharray="2.5,1.2"/>
<text x="274.8" y="1072.7" font-size="15.6" text-anchor="middle" fill="#111" font-family='"Liberation Sans", sans-serif' stroke="#111" stroke-width="0.25" textLength="22.8" lengthAdjust="spacingAndGlyphs">−1</text>
<line x1="333.0" y1="702.5" x2="333.0" y2="707.5" stroke="#555" stroke-width="1"/>
<line x1="333.0" y1="707.5" x2="333.0" y2="1047" stroke="#999" stroke-width="0.9" stroke-dasharray="1.6,2"/>
<line x1="333.0" y1="1046.5" x2="333.0" y2="1053.5" stroke="#777" stroke-width="1" stroke-dasharray="2.5,1.2"/>
<text x="333.0" y="1072.7" font-size="15.6" text-anchor="middle" fill="#111" font-family='"Liberation Sans", sans-serif' stroke="#111" stroke-width="0.25" textLength="9.9" lengthAdjust="spacingAndGlyphs">0</text>
<line x1="391.2" y1="702.5" x2="391.2" y2="707.5" stroke="#555" stroke-width="1"/>
<line x1="391.2" y1="707.5" x2="391.2" y2="1047" stroke="#999" stroke-width="0.9" stroke-dasharray="1.6,2"/>
<line x1="391.2" y1="1046.5" x2="391.2" y2="1053.5" stroke="#777" stroke-width="1" stroke-dasharray="2.5,1.2"/>
<text x="391.2" y="1072.7" font-size="15.6" text-anchor="middle" fill="#111" font-family='"Liberation Sans", sans-serif' stroke="#111" stroke-width="0.25" textLength="9.9" lengthAdjust="spacingAndGlyphs">1</text>
<line x1="449.5" y1="702.5" x2="449.5" y2="707.5" stroke="#555" stroke-width="1"/>
<line x1="449.5" y1="707.5" x2="449.5" y2="1047" stroke="#999" stroke-width="0.9" stroke-dasharray="1.6,2"/>
<line x1="449.5" y1="1046.5" x2="449.5" y2="1053.5" stroke="#777" stroke-width="1" stroke-dasharray="2.5,1.2"/>
<text x="449.5" y="1072.7" font-size="15.6" text-anchor="middle" fill="#111" font-family='"Liberation Sans", sans-serif' stroke="#111" stroke-width="0.25" textLength="9.9" lengthAdjust="spacingAndGlyphs">2</text>
<line x1="507.8" y1="702.5" x2="507.8" y2="707.5" stroke="#555" stroke-width="1"/>
<line x1="507.8" y1="707.5" x2="507.8" y2="1047" stroke="#999" stroke-width="0.9" stroke-dasharray="1.6,2"/>
<line x1="507.8" y1="1046.5" x2="507.8" y2="1053.5" stroke="#777" stroke-width="1" stroke-dasharray="2.5,1.2"/>
<text x="507.8" y="1072.7" font-size="15.6" text-anchor="middle" fill="#111" font-family='"Liberation Sans", sans-serif' stroke="#111" stroke-width="0.25" textLength="9.9" lengthAdjust="spacingAndGlyphs">3</text>
<line x1="566.0" y1="702.5" x2="566.0" y2="707.5" stroke="#555" stroke-width="1"/>
<line x1="566.0" y1="707.5" x2="566.0" y2="1047" stroke="#999" stroke-width="0.9" stroke-dasharray="1.6,2"/>
<line x1="566.0" y1="1046.5" x2="566.0" y2="1053.5" stroke="#777" stroke-width="1" stroke-dasharray="2.5,1.2"/>
<text x="566.0" y="1072.7" font-size="15.6" text-anchor="middle" fill="#111" font-family='"Liberation Sans", sans-serif' stroke="#111" stroke-width="0.25" textLength="9.9" lengthAdjust="spacingAndGlyphs">4</text>
<line x1="624.2" y1="702.5" x2="624.2" y2="707.5" stroke="#555" stroke-width="1"/>
<line x1="624.2" y1="707.5" x2="624.2" y2="1047" stroke="#999" stroke-width="0.9" stroke-dasharray="1.6,2"/>
<line x1="624.2" y1="1046.5" x2="624.2" y2="1053.5" stroke="#777" stroke-width="1" stroke-dasharray="2.5,1.2"/>
<text x="624.2" y="1072.7" font-size="15.6" text-anchor="middle" fill="#111" font-family='"Liberation Sans", sans-serif' stroke="#111" stroke-width="0.25" textLength="9.9" lengthAdjust="spacingAndGlyphs">5</text>
<text x="274.2" y="1094.6" font-size="16.4" text-anchor="start" fill="#111" font-family='"Liberation Sans", sans-serif' stroke="#111" stroke-width="0.25" textLength="175.5" lengthAdjust="spacingAndGlyphs">LDA SCORE (log 10)</text>
<rect x="333.0" y="712.4" width="254.7" height="13.8" fill="#ff0000" stroke="#3a1010" stroke-width="1"/>
<text x="326.7" y="725.4" font-size="10.5" text-anchor="end" fill="#111" font-family='"Liberation Sans", sans-serif' stroke="#111" stroke-width="0.18" textLength="135.7" lengthAdjust="spacingAndGlyphs">L2_Replication_and_repair</text>
<rect x="333.0" y="729.1" width="254.0" height="13.8" fill="#ff0000" stroke="#3a1010" stroke-width="1"/>
<text x="326.7" y="742.1" font-size="10.5" text-anchor="end" fill="#111" font-family='"Liberation Sans", sans-serif' stroke="#111" stroke-width="0.18" textLength="139.8" lengthAdjust="spacingAndGlyphs">L2_Nucleotide_metabolism</text>
<rect x="333.0" y="745.9" width="248.0" height="13.8" fill="#ff0000" stroke="#3a1010" stroke-width="1"/>
<text x="326.7" y="758.9" font-size="10.5" text-anchor="end" fill="#111" font-family='"Liberation Sans", sans-serif' stroke="#111" stroke-width="0.18" textLength="183.9" lengthAdjust="spacingAndGlyphs">L1_Genetic_Information_Processing</text>
<rect x="333.0" y="762.6" width="247.1" height="13.8" fill="#ff0000" stroke="#3a1010" stroke-width="1"/>
<text x="326.7" y="775.6" font-size="10.5" text-anchor="end" fill="#111" font-family='"Liberation Sans", sans-serif' stroke="#111" stroke-width="0.18" textLength="126.6" lengthAdjust="spacingAndGlyphs">L2_Membrane_transport</text>
<rect x="333.0" y="779.4" width="238.0" height="13.8" fill="#ff0000" stroke="#3a1010" stroke-width="1"/>
<text x="326.7" y="792.4" font-size="10.5" text-anchor="end" fill="#111" font-family='"Liberation Sans", sans-serif' stroke="#111" stroke-width="0.18" textLength="116.9" lengthAdjust="spacingAndGlyphs">L3_Purine_metabolism</text>
<rect x="333.0" y="796.1" width="235.4" height="13.8" fill="#ff0000" stroke="#3a1010" stroke-width="1"/>
<text x="326.7" y="809.1" font-size="10.5" text-anchor="end" fill="#111" font-family='"Liberation Sans", sans-serif' stroke="#111" stroke-width="0.18" textLength="139.2" lengthAdjust="spacingAndGlyphs">L3_Pyrimidine_metabolism</text>
<rect x="333.0" y="812.8" width="234.9" height="13.8" fill="#ff0000" stroke="#3a1010" stroke-width="1"/>
<text x="326.7" y="825.8" font-size="10.5" text-anchor="end" fill="#111" font-family='"Liberation Sans", sans-serif' stroke="#111" stroke-width="0.18" textLength="209.4" lengthAdjust="spacingAndGlyphs">L2_Glycanbiosynthesis_and_metabolism</text>
<rect x="333.0" y="829.6" width="228.0" height="13.8" fill="#ff0000" stroke="#3a1010" stroke-width="1"/>
<text x="326.7" y="842.6" font-size="10.5" text-anchor="end" fill="#111" font-family='"Liberation Sans", sans-serif' stroke="#111" stroke-width="0.18" textLength="173.2" lengthAdjust="spacingAndGlyphs">L3_Aminoacyl_tRNA_biosynthesis</text>
<rect x="333.0" y="846.3" width="222.5" height="13.8" fill="#ff0000" stroke="#3a1010" stroke-width="1"/>
<text x="326.7" y="859.3" font-size="10.5" text-anchor="end" fill="#111" font-family='"Liberation Sans", sans-serif' stroke="#111" stroke-width="0.18" textLength="162.7" lengthAdjust="spacingAndGlyphs">L3_Homologous_recombination</text>
<rect x="333.0" y="863.1" width="221.6" height="13.8" fill="#ff0000" stroke="#3a1010" stroke-width="1"/>
<text x="326.7" y="876.1" font-size="10.5" text-anchor="end" fill="#111" font-family='"Liberation Sans", sans-serif' stroke="#111" stroke-width="0.18" textLength="160.8" lengthAdjust="spacingAndGlyphs">L3_Peptidoglycan_biosynthesis</text>
<rect x="150.8" y="879.8" width="182.2" height="13.8" fill="#008000" stroke="#0a2a0a" stroke-width="1"/>
<text x="339.5" y="892.8" font-size="10.5" text-anchor="start" fill="#111" font-family='"Liberation Sans", sans-serif' stroke="#111" stroke-width="0.18" textLength="152.5" lengthAdjust="spacingAndGlyphs">L3_Insulin_signaling_pathway</text>
<rect x="150.2" y="896.5" width="182.8" height="13.8" fill="#008000" stroke="#0a2a0a" stroke-width="1"/>
<text x="339.5" y="909.5" font-size="10.5" text-anchor="start" fill="#111" font-family='"Liberation Sans", sans-serif' stroke="#111" stroke-width="0.18" textLength="197.6" lengthAdjust="spacingAndGlyphs">L3_Hypertrophiccardiomyopathy_HCM</text>
<rect x="149.2" y="913.3" width="183.8" height="13.8" fill="#008000" stroke="#0a2a0a" stroke-width="1"/>
<text x="339.5" y="926.3" font-size="10.5" text-anchor="start" fill="#111" font-family='"Liberation Sans", sans-serif' stroke="#111" stroke-width="0.18" textLength="161.4" lengthAdjust="spacingAndGlyphs">L3_Hipposignaling_pathway_fly</text>
<rect x="145.1" y="930.0" width="187.9" height="13.8" fill="#008000" stroke="#0a2a0a" stroke-width="1"/>
<text x="339.5" y="943.0" font-size="10.5" text-anchor="start" fill="#111" font-family='"Liberation Sans", sans-serif' stroke="#111" stroke-width="0.18" textLength="117.5" lengthAdjust="spacingAndGlyphs">L3_Lysine_degradation</text>
<rect x="143.4" y="946.8" width="189.6" height="13.8" fill="#008000" stroke="#0a2a0a" stroke-width="1"/>
<text x="339.5" y="959.8" font-size="10.5" text-anchor="start" fill="#111" font-family='"Liberation Sans", sans-serif' stroke="#111" stroke-width="0.18" textLength="109.3" lengthAdjust="spacingAndGlyphs">L2_Excretory_system</text>
<rect x="138.2" y="963.5" width="194.8" height="13.8" fill="#008000" stroke="#0a2a0a" stroke-width="1"/>
<text x="339.5" y="976.5" font-size="10.5" text-anchor="start" fill="#111" font-family='"Liberation Sans", sans-serif' stroke="#111" stroke-width="0.18" textLength="143.6" lengthAdjust="spacingAndGlyphs">L3_Hipposignaling_pathway</text>
<rect x="133.4" y="980.2" width="199.6" height="13.8" fill="#008000" stroke="#0a2a0a" stroke-width="1"/>
<text x="339.5" y="993.2" font-size="10.5" text-anchor="start" fill="#111" font-family='"Liberation Sans", sans-serif' stroke="#111" stroke-width="0.18" textLength="208.4" lengthAdjust="spacingAndGlyphs">L2_Signaling_molecules_and_interaction</text>
<rect x="121.0" y="997.0" width="212.0" height="13.8" fill="#008000" stroke="#0a2a0a" stroke-width="1"/>
<text x="339.5" y="1010.0" font-size="10.5" text-anchor="start" fill="#111" font-family='"Liberation Sans", sans-serif' stroke="#111" stroke-width="0.18" textLength="81.2" lengthAdjust="spacingAndGlyphs">L2_Cell_motility</text>
<rect x="104.6" y="1013.7" width="228.4" height="13.8" fill="#008000" stroke="#0a2a0a" stroke-width="1"/>
<text x="339.5" y="1026.7" font-size="10.5" text-anchor="start" fill="#111" font-family='"Liberation Sans", sans-serif' stroke="#111" stroke-width="0.18" textLength="83.9" lengthAdjust="spacingAndGlyphs">L2_Transcription</text>
<rect x="100.8" y="1030.5" width="232.2" height="13.8" fill="#008000" stroke="#0a2a0a" stroke-width="1"/>
<text x="339.5" y="1043.5" font-size="10.5" text-anchor="start" fill="#111" font-family='"Liberation Sans", sans-serif' stroke="#111" stroke-width="0.18" textLength="82.8" lengthAdjust="spacingAndGlyphs">L3_Spliceosome</text>
<rect x="660.1" y="844.1" width="30.8" height="9.7" fill="#ff0000" stroke="#3a1010" stroke-width="1"/>
<rect x="660.1" y="872.5" width="30.8" height="9.8" fill="#008000" stroke="#0a2a0a" stroke-width="1"/>
<text x="697.2" y="853.8" font-size="12.4" text-anchor="start" fill="#222" font-family='"Liberation Sans", sans-serif' >TSC</text>
<text x="696.5" y="882.8" font-size="12.4" text-anchor="start" fill="#222" font-family='"Liberation Sans", sans-serif' >LSC</text>
</svg>
</body></html>
